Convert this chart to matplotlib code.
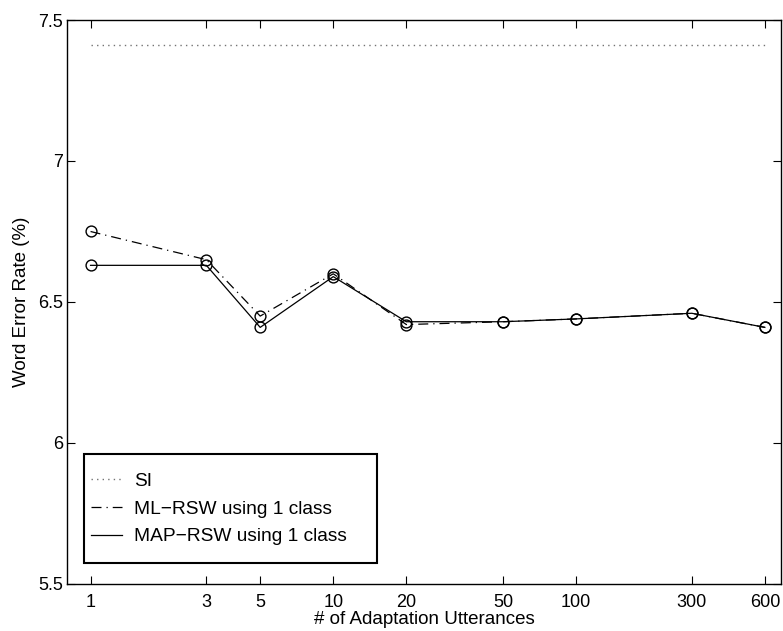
import numpy as np
import matplotlib
matplotlib.use('Agg')
import matplotlib.pyplot as plt
from matplotlib.patches import Rectangle

plt.rcParams['font.family'] = ['Liberation Sans', 'DejaVu Sans']

n_utt = [1, 3, 5, 10, 20, 50, 100, 300, 600]
si_wer = [7.41, 7.41]
ml_rsw = [6.75, 6.65, 6.45, 6.60, 6.42, 6.43, 6.44, 6.46, 6.41]
map_rsw = [6.63, 6.63, 6.41, 6.59, 6.43, 6.43, 6.44, 6.46, 6.41]
tick_labels = ['1', '3', '5', '10', '20', '50', '100', '300', '600']

fig = plt.figure(figsize=(7.83, 6.31), dpi=100)
ax = fig.add_axes([0.0856, 0.0745, 0.912, 0.8938])

ax.plot([n_utt[0], n_utt[-1]], si_wer, color='0.45', linestyle=(0, (1, 3)), lw=1.0, label='SI')
ax.plot(n_utt, ml_rsw, color='k', linestyle=(0, (8, 4, 1, 4)), lw=0.9,
        marker='o', mfc='none', mec='k', ms=7.8, mew=1.0, label='ML\u2212RSW using 1 class')
ax.plot(n_utt, map_rsw, color='k', linestyle='-', lw=0.9,
        marker='o', mfc='none', mec='k', ms=7.8, mew=1.0, label='MAP\u2212RSW using 1 class')

ax.set_xscale('log')
ax.set_xlim(0.8, 700)
ax.set_ylim(5.5, 7.5)
ax.set_xticks(n_utt)
ax.set_xticklabels(tick_labels)
ax.xaxis.set_minor_locator(matplotlib.ticker.NullLocator())
ax.set_yticks([5.5, 6, 6.5, 7, 7.5])
ax.set_yticklabels(['5.5', '6', '6.5', '7', '7.5'])
ax.tick_params(direction='in', top=True, right=True, length=6, width=0.8, labelsize=13)
ax.tick_params(axis='x', pad=7)
ax.tick_params(axis='y', pad=3)
for s in ax.spines.values():
    s.set_linewidth(1.0)

ax.set_xlabel('# of Adaptation Utterances', fontsize=13.5, labelpad=0)
ax.set_ylabel('Word Error Rate (%)', fontsize=13.5, labelpad=6)

# legend entries without frame, box drawn separately
leg = ax.legend(loc='center left', bbox_to_anchor=(0.0336, 0.133), fontsize=13.8,
                frameon=False, handlelength=1.6, borderpad=0, borderaxespad=0,
                labelspacing=0.53, handletextpad=0.63)
for h in leg.legend_handles:
    h.set_marker('')
ax.add_patch(Rectangle((0.0238, 0.0372), 0.4104, 0.1933, transform=ax.transAxes,
                       fill=False, edgecolor='k', lw=1.5, zorder=5))

fig.savefig('out.png', dpi=100)
